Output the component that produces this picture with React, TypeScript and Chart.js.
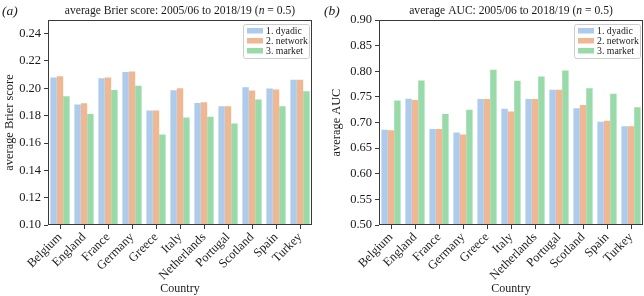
import React, { useEffect, useRef } from "react";
import { Chart, registerables } from "chart.js";

Chart.register(...registerables);

const categories = ["Belgium", "England", "France", "Germany", "Greece", "Italy", "Netherlands", "Portugal", "Scotland", "Spain", "Turkey"];
const seriesNames = ["1. dyadic", "2. network", "3. market"];
const seriesColors = ["#aecbeb", "#efb792", "#98dba8"];

const brierDyadic = [0.208, 0.1882, 0.2074, 0.212, 0.1838, 0.1986, 0.1893, 0.1869, 0.2008, 0.1998, 0.2062];
const brierNetwork = [0.2088, 0.189, 0.208, 0.2124, 0.1838, 0.2, 0.1898, 0.1869, 0.1984, 0.1991, 0.2062];
const brierMarket = [0.1942, 0.1812, 0.1988, 0.2018, 0.1663, 0.1786, 0.1792, 0.1743, 0.1918, 0.1868, 0.1978];

const aucDyadic = [0.686, 0.7464, 0.6873, 0.6804, 0.746, 0.7266, 0.746, 0.7637, 0.728, 0.7014, 0.6928];
const aucNetwork = [0.685, 0.744, 0.6873, 0.6765, 0.746, 0.7214, 0.746, 0.7637, 0.7343, 0.7033, 0.6928];
const aucMarket = [0.7427, 0.782, 0.7167, 0.7251, 0.803, 0.7817, 0.7898, 0.8017, 0.7669, 0.7559, 0.73];

const brierTickValues = [0.1, 0.12, 0.14, 0.16, 0.18, 0.2, 0.22, 0.24];
const aucTickValues = [0.5, 0.55, 0.6, 0.65, 0.7, 0.75, 0.8, 0.85, 0.9];
const brierRange = { min: 0.1, max: 0.25 };
const aucRange = { min: 0.5, max: 0.9 };

const FONT = "'Liberation Serif', 'DejaVu Serif', serif";
const TEXT = "#1a1a1a";
const AXIS = "#3a3a3a";

type PanelProps = {
  panel: string;
  titlePre: string;
  yTitle: string;
  series: number[][];
  range: { min: number; max: number };
  tickValues: number[];
  yWidth: number;
  yTitlePad: number;
  padRight: number;
};

function Panel(props: PanelProps) {
  const ref = useRef<HTMLCanvasElement | null>(null);
  useEffect(() => {
    if (!ref.current) return;
    const frame = {
      id: "frame",
      afterDatasetsDraw(chart: any) {
        const { ctx, chartArea: a } = chart;
        ctx.save();
        ctx.strokeStyle = AXIS;
        ctx.lineWidth = 1;
        ctx.strokeRect(Math.round(a.left) + 0.5, Math.round(a.top) + 0.5, Math.round(a.right - a.left) - 1, Math.round(a.bottom - a.top) - 1);
        ctx.restore();
      },
      afterDraw(chart: any) {
        const { ctx, chartArea: a } = chart;
        ctx.save();
        ctx.fillStyle = TEXT;
        ctx.textBaseline = "middle";
        ctx.textAlign = "left";
        ctx.font = `italic 13.5px ${FONT}`;
        ctx.fillText(props.panel, 2, 11);
        const f1 = `11.6px ${FONT}`;
        const f2 = `italic 11.6px ${FONT}`;
        const parts: [string, string][] = [
          [props.titlePre, f1],
          ["n", f2],
          [" = 0.5)", f1],
        ];
        let total = 0;
        for (const [t, f] of parts) {
          ctx.font = f;
          total += ctx.measureText(t).width;
        }
        let x = (a.left + a.right) / 2 - total / 2;
        for (const [t, f] of parts) {
          ctx.font = f;
          ctx.fillText(t, x, 11);
          x += ctx.measureText(t).width;
        }
        const w = 66, h = 34;
        const bx = a.right - 3 - w;
        const by = a.top + 4;
        ctx.fillStyle = "rgba(255,255,255,0.85)";
        ctx.strokeStyle = "#cccccc";
        ctx.lineWidth = 1;
        ctx.beginPath();
        (ctx as any).roundRect(bx + 0.5, by + 0.5, w, h, 2);
        ctx.fill();
        ctx.stroke();
        ctx.font = `9.8px ${FONT}`;
        chart.data.datasets.forEach((ds: any, i: number) => {
          const cy = by + 6.5 + i * 10;
          ctx.fillStyle = ds.backgroundColor;
          ctx.fillRect(bx + 4, cy - 2.5, 16, 5.5);
          ctx.fillStyle = TEXT;
          ctx.fillText(ds.label, bx + 23, cy + 0.5);
        });
        ctx.restore();
      },
    };
    const chart = new Chart(ref.current, {
      type: "bar",
      data: {
        labels: categories,
        datasets: props.series.map((d, i) => ({
          label: seriesNames[i],
          data: d,
          backgroundColor: seriesColors[i],
          borderWidth: 0,
          categoryPercentage: 0.8,
          barPercentage: 1.0,
        })),
      },
      options: {
        animation: false,
        responsive: false,
        layout: { padding: { top: 20, right: props.padRight, left: 0, bottom: 0 } },
        plugins: { legend: { display: false }, tooltip: { enabled: false }, title: { display: false } },
        scales: {
          x: {
            grid: { display: true, drawOnChartArea: false, drawTicks: true, tickLength: 4, color: AXIS, offset: false },
            border: { display: false },
            ticks: { color: TEXT, font: { family: FONT, size: 12.5 }, maxRotation: 45, minRotation: 45, padding: 1, autoSkip: false },
            title: { display: true, text: "Country", color: TEXT, font: { family: FONT, size: 12 }, padding: { top: 0, bottom: 0 } },
            afterFit: (s: any) => { s.height = 71; },
          },
          y: {
            min: props.range.min,
            max: props.range.max,
            grid: { display: true, drawOnChartArea: false, drawTicks: true, tickLength: 4, color: AXIS },
            border: { display: false },
            ticks: {
              color: TEXT,
              font: { family: FONT, size: 12.5 },
              padding: 3,
              autoSkip: false,
              callback: (v: any) => Number(v).toFixed(2),
            },
            afterBuildTicks: (s: any) => {
              s.ticks = props.tickValues.map((v) => ({ value: v }));
            },
            title: { display: true, text: props.yTitle, color: TEXT, font: { family: FONT, size: 12.4 }, padding: { top: props.yTitlePad, bottom: 0 } },
            afterFit: (s: any) => { s.width = props.yWidth; },
          },
        },
      },
      plugins: [frame],
    } as any);
    return () => chart.destroy();
  }, []);
  return <canvas ref={ref} width={322} height={296} style={{ display: "block", width: 322, height: 296 }} />;
}

export default function App() {
  useEffect(() => {
    document.body.style.margin = "0";
  }, []);
  return (
    <div style={{ display: "flex", width: 644, height: 296, background: "#fff" }}>
      <Panel
        panel="(a)"
        titlePre="average Brier score: 2005/06 to 2018/19 ("
        yTitle="average Brier score"
        series={[brierDyadic, brierNetwork, brierMarket]}
        range={brierRange}
        tickValues={brierTickValues}
        yWidth={48}
        yTitlePad={2}
        padRight={10}
      />
      <Panel
        panel="(b)"
        titlePre="average AUC: 2005/06 to 2018/19 ("
        yTitle="average AUC"
        series={[aucDyadic, aucNetwork, aucMarket]}
        range={aucRange}
        tickValues={aucTickValues}
        yWidth={57}
        yTitlePad={7}
        padRight={1}
      />
    </div>
  );
}
